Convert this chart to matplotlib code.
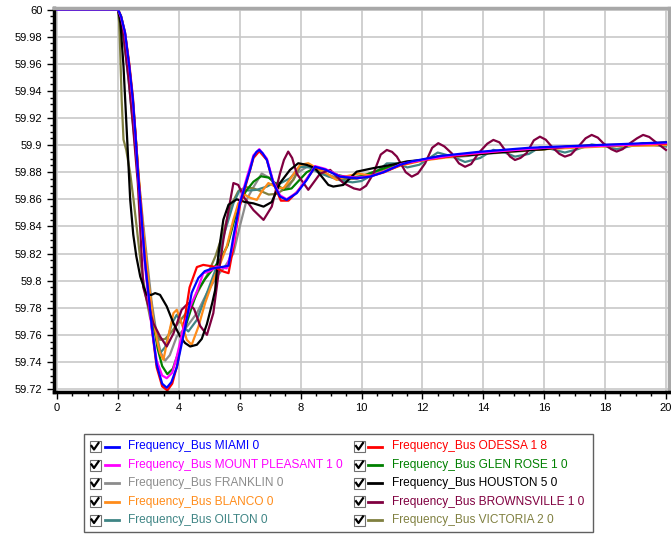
import matplotlib
matplotlib.use("Agg")
import matplotlib.pyplot as plt
from matplotlib.ticker import MultipleLocator, FuncFormatter
from matplotlib.lines import Line2D
from matplotlib.patches import Rectangle

plt.rcParams['font.family'] = ['Liberation Sans', 'DejaVu Sans']

# ---- data (time s, frequency Hz) ----
t_miami = [0, 2.0, 2.1, 2.23, 2.37, 2.49, 2.58, 2.66, 2.76, 2.88, 3.0, 3.11, 3.27, 3.45, 3.6, 3.75, 3.93, 4.2, 4.42, 4.64,
           4.85, 5.1, 5.4, 5.63, 5.79, 6.0, 6.23, 6.34, 6.45, 6.55, 6.64, 6.75, 6.89, 7.1, 7.32, 7.54, 7.87, 8.2, 8.47, 8.8, 9.29, 9.84,
           10.28, 10.72, 11.26, 11.65, 12.6, 13.85, 15.5, 17.7, 20]
f_miami = [60, 60, 59.995, 59.983, 59.958, 59.933, 59.905, 59.878, 59.85, 59.815, 59.79, 59.766, 59.738, 59.724, 59.721, 59.725, 59.736, 59.765, 59.791, 59.802,
           59.807, 59.809, 59.810, 59.811, 59.8325, 59.857, 59.874, 59.882, 59.8915, 59.895, 59.8964, 59.894, 59.889, 59.872, 59.862, 59.8596, 59.8645, 59.8743, 59.884, 59.882, 59.8767, 59.8755,
           59.8767, 59.880, 59.8854, 59.888, 59.892, 59.895, 59.898, 59.900, 59.902]

t_mount = [0, 2.0, 2.1, 2.23, 2.37, 2.49, 2.58, 2.66, 2.76, 2.88, 3.0, 3.11, 3.27, 3.45, 3.6, 3.78, 3.93, 4.15, 4.37, 4.59,
           4.8, 5.02, 5.24, 5.57, 5.8, 6.0, 6.23, 6.45, 6.64, 6.89, 7.1, 7.32, 7.54, 7.87, 8.2, 8.47, 8.8, 9.3, 9.85, 10.3,
           10.75, 11.3, 12.0, 13.0, 14.5, 16.0, 18.0, 20]
f_mount = [60, 60, 59.994, 59.982, 59.957, 59.93, 59.903, 59.877, 59.848, 59.812, 59.787, 59.764, 59.741, 59.73, 59.728, 59.732, 59.744, 59.765, 59.781, 59.792,
           59.8055, 59.807, 59.8104, 59.809, 59.828, 59.858, 59.876, 59.8925, 59.897, 59.89, 59.873, 59.863, 59.86, 59.865, 59.875, 59.8845, 59.8825, 59.877, 59.876, 59.877,
           59.8805, 59.886, 59.889, 59.8925, 59.8955, 59.898, 59.8995, 59.9015]

t_franklin = [0, 2.0, 2.1, 2.2, 2.35, 2.5, 2.65, 2.8, 2.95, 3.1, 3.27, 3.4, 3.55, 3.7, 3.93, 4.26, 4.59, 4.92, 5.24, 5.5,
              5.79, 6.0, 6.23, 6.45, 6.72, 7.0, 7.32, 7.6, 7.87, 8.2, 8.5, 8.8, 9.2, 9.6, 10.0, 10.5, 11.0, 11.5, 12.0, 12.5,
              13.0, 13.5, 14.0, 15.0, 16.0, 17.0, 18.0, 19.0, 20]
f_franklin = [60, 60, 59.993, 59.978, 59.95, 59.918, 59.882, 59.848, 59.816, 59.785, 59.76, 59.747, 59.741, 59.745, 59.7588, 59.766, 59.776, 59.7908, 59.803, 59.81,
              59.82, 59.84, 59.86, 59.869, 59.879, 59.8755, 59.868, 59.869, 59.879, 59.884, 59.883, 59.879, 59.876, 59.8755, 59.877, 59.881, 59.884, 59.887, 59.889, 59.8915,
              59.891, 59.892, 59.8935, 59.895, 59.897, 59.899, 59.8995, 59.9, 59.9]

t_blanco = [0, 2.0, 2.1, 2.23, 2.37, 2.49, 2.6, 2.72, 2.83, 3.0, 3.16, 3.3, 3.38, 3.49, 3.65, 3.82, 3.93, 4.09, 4.26, 4.42,
            4.64, 4.86, 5.13, 5.35, 5.57, 5.79, 5.95, 6.17, 6.35, 6.56, 6.72, 6.94, 7.16, 7.43, 7.71, 7.98, 8.25, 8.53, 8.86, 9.18,
            9.5, 9.9, 10.3, 10.8, 11.3, 12.0, 13.0, 14.0, 15.0, 16.0, 17.0, 18.0, 19.0, 20]
f_blanco = [60, 60, 59.994, 59.98, 59.955, 59.928, 59.9, 59.866, 59.8374, 59.80, 59.771, 59.754, 59.7465, 59.7416, 59.7588, 59.776, 59.7785, 59.7686, 59.7563, 59.7527,
            59.766, 59.7834, 59.8006, 59.812, 59.825, 59.845, 59.857, 59.8633, 59.861, 59.8596, 59.8657, 59.872, 59.8694, 59.868, 59.8767, 59.8854, 59.8866, 59.883, 59.879, 59.8743,
            59.877, 59.879, 59.8775, 59.881, 59.885, 59.8885, 59.8915, 59.894, 59.8955, 59.897, 59.898, 59.899, 59.8995, 59.9]

t_oilton = [0, 2.0, 2.1, 2.2, 2.35, 2.5, 2.65, 2.8, 2.95, 3.1, 3.25, 3.38, 3.55, 3.77, 3.93, 4.15, 4.31, 4.59, 4.92, 5.2,
            5.46, 5.79, 6.0, 6.28, 6.56, 6.89, 7.1, 7.35, 7.65, 7.98, 8.3, 8.6, 8.9, 9.3, 9.7, 10.0, 10.4, 10.83, 11.2, 11.5,
            11.9, 12.5, 13.0, 13.4, 13.9, 14.33, 14.7, 15.04, 15.5, 15.86, 16.25, 16.68, 17.1, 17.56, 18.0, 18.38, 18.8, 19.25, 19.64, 20]
f_oilton = [60, 60, 59.992, 59.976, 59.947, 59.914, 59.878, 59.843, 59.81, 59.782, 59.76, 59.7465, 59.751, 59.7686, 59.7748, 59.766, 59.7625, 59.771, 59.7908, 59.808,
            59.8325, 59.857, 59.867, 59.8665, 59.867, 59.8694, 59.872, 59.872, 59.8755, 59.884, 59.8835, 59.8795, 59.877, 59.874, 59.8725, 59.8735, 59.8785, 59.8865, 59.8865, 59.8835,
            59.8855, 59.8945, 59.8915, 59.8875, 59.8905, 59.8965, 59.8945, 59.8915, 59.8935, 59.8985, 59.897, 59.8945, 59.897, 59.9005, 59.899, 59.897, 59.899, 59.9015, 59.9, 59.899]

t_odessa = [0, 2.0, 2.1, 2.23, 2.37, 2.49, 2.58, 2.66, 2.76, 2.88, 3.0, 3.11, 3.27, 3.45, 3.62, 3.78, 3.95, 4.15, 4.35, 4.59,
            4.8, 5.13, 5.46, 5.63, 5.8, 6.0, 6.23, 6.45, 6.64, 6.89, 7.1, 7.35, 7.6, 7.9, 8.2, 8.47, 8.8, 9.3, 9.85, 10.3,
            10.75, 11.3, 12.0, 13.0, 14.5, 16.0, 18.0, 20]
f_odessa = [60, 60, 59.995, 59.983, 59.96, 59.935, 59.907, 59.88, 59.852, 59.816, 59.79, 59.765, 59.736, 59.722, 59.719, 59.724, 59.738, 59.766, 59.795, 59.81,
            59.8116, 59.8104, 59.8067, 59.8055, 59.826, 59.855, 59.873, 59.8905, 59.8955, 59.889, 59.872, 59.859, 59.859, 59.866, 59.875, 59.8835, 59.882, 59.877, 59.8755, 59.877,
            59.880, 59.8855, 59.889, 59.892, 59.8955, 59.898, 59.900, 59.901]

t_glenrose = [0, 2.0, 2.1, 2.23, 2.37, 2.49, 2.6, 2.72, 2.85, 3.0, 3.15, 3.3, 3.45, 3.62, 3.8, 4.0, 4.2, 4.4, 4.6, 4.85,
              5.1, 5.35, 5.6, 5.8, 6.0, 6.2, 6.45, 6.7, 6.95, 7.2, 7.45, 7.7, 7.95, 8.2, 8.5, 8.8, 9.2, 9.6, 10.0, 10.5,
              11.0, 12.0, 13.0, 14.0, 15.0, 16.0, 17.0, 18.0, 19.0, 20]
f_glenrose = [60, 60, 59.995, 59.982, 59.958, 59.932, 59.9, 59.862, 59.826, 59.795, 59.77, 59.75, 59.737, 59.731, 59.735, 59.748, 59.765, 59.779, 59.792, 59.801,
              59.808, 59.8153, 59.826, 59.843, 59.857, 59.866, 59.873, 59.877, 59.876, 59.871, 59.867, 59.868, 59.874, 59.88, 59.8835, 59.882, 59.878, 59.876, 59.877, 59.881,
              59.885, 59.889, 59.892, 59.894, 59.896, 59.897, 59.899, 59.9, 59.9, 59.901]

t_houston = [0, 2.0, 2.08, 2.18, 2.29, 2.40, 2.5, 2.6, 2.73, 2.85, 2.95, 3.1, 3.22, 3.38, 3.6, 3.82, 4.04, 4.2, 4.37, 4.59,
             4.75, 4.92, 5.1, 5.19, 5.3, 5.46, 5.63, 5.9, 6.17, 6.45, 6.78, 7.05, 7.32, 7.65, 7.92, 8.2, 8.47, 8.91, 9.07, 9.4,
             9.84, 10.39, 11.0, 11.5, 12.0, 12.5, 13.0, 13.5, 14.2, 15.0, 16.0, 16.74, 17.5, 18.5, 19.3, 20]
f_houston = [60, 60, 59.99, 59.958, 59.909, 59.8596, 59.834, 59.818, 59.803, 59.795, 59.7895, 59.7895, 59.7908, 59.7895, 59.781, 59.7686, 59.7588, 59.754, 59.7514, 59.7527,
             59.757, 59.768, 59.784, 59.793, 59.82, 59.845, 59.856, 59.86, 59.858, 59.857, 59.8546, 59.858, 59.872, 59.8817, 59.8866, 59.8854, 59.883, 59.8706, 59.8694, 59.8706,
             59.8804, 59.883, 59.8855, 59.888, 59.889, 59.8915, 59.892, 59.8925, 59.894, 59.8955, 59.897, 59.8988, 59.8995, 59.9, 59.901, 59.902]

t_browns = [0, 2.0, 2.1, 2.2, 2.35, 2.5, 2.65, 2.83, 3.0, 3.16, 3.38, 3.6, 3.82, 4.09, 4.31, 4.5, 4.7, 4.92, 5.13, 5.3,
            5.46, 5.63, 5.79, 5.95, 6.12, 6.45, 6.78, 7.05, 7.32, 7.45, 7.59, 7.72, 7.87, 8.25, 8.64, 8.97, 9.4, 9.75, 9.95, 10.15,
            10.39, 10.63, 10.83, 11.0, 11.16, 11.45, 11.65, 11.85, 12.09, 12.32, 12.52, 12.72, 12.96, 13.2, 13.4, 13.6, 13.84, 14.13, 14.33, 14.53,
            14.71, 14.88, 15.04, 15.22, 15.42, 15.66, 15.86, 16.05, 16.25, 16.5, 16.68, 16.88, 17.12, 17.36, 17.56, 17.76, 17.94, 18.2, 18.38, 18.58,
            18.82, 19.05, 19.25, 19.45, 19.64, 20]
f_browns = [60, 60, 59.993, 59.977, 59.948, 59.912, 59.872, 59.795, 59.781, 59.7686, 59.7588, 59.7514, 59.761, 59.7785, 59.7834, 59.779, 59.7665, 59.76, 59.776, 59.805,
            59.83, 59.852, 59.872, 59.8706, 59.862, 59.852, 59.8448, 59.8546, 59.879, 59.889, 59.8952, 59.8905, 59.879, 59.867, 59.879, 59.8817, 59.872, 59.868, 59.867, 59.870,
            59.879, 59.893, 59.8964, 59.895, 59.8915, 59.880, 59.8767, 59.879, 59.8866, 59.898, 59.9014, 59.899, 59.894, 59.8865, 59.884, 59.886, 59.894, 59.901, 59.9038, 59.902,
            59.8964, 59.8915, 59.889, 59.8905, 59.894, 59.9035, 59.9062, 59.904, 59.8988, 59.8935, 59.8915, 59.893, 59.8988, 59.905, 59.9075, 59.9055, 59.9014, 59.897, 59.8952, 59.897,
            59.9014, 59.905, 59.9075, 59.906, 59.9026, 59.8964]

t_victoria = [0, 2.0, 2.04, 2.07, 2.12, 2.18, 2.27, 2.4, 2.51, 2.62, 2.75, 2.9, 3.05, 3.2, 3.38, 3.55, 3.75, 3.95, 4.2, 4.45,
              4.7, 4.95, 5.2, 5.45, 5.7, 5.95, 6.2, 6.45, 6.7, 6.95, 7.2, 7.43, 7.76, 7.98, 8.3, 8.6, 8.9, 9.3, 9.7, 10.0,
              10.5, 11.0, 12.0, 13.0, 14.0, 15.0, 16.0, 17.0, 18.0, 19.0, 20]
f_victoria = [60, 60, 59.99, 59.97, 59.933, 59.904, 59.8964, 59.879, 59.8596, 59.838, 59.812, 59.79, 59.773, 59.763, 59.7563, 59.757, 59.762, 59.768, 59.775, 59.784,
              59.795, 59.805, 59.818, 59.835, 59.855, 59.866, 59.869, 59.868, 59.866, 59.8635, 59.864, 59.867, 59.8743, 59.884, 59.8845, 59.881, 59.877, 59.875, 59.875, 59.876,
              59.88, 59.8845, 59.889, 59.892, 59.894, 59.896, 59.897, 59.899, 59.9, 59.9, 59.9]

# legend layout: (label, colour, t, f) left column then right column
left_col = [("Frequency_Bus MIAMI 0", "#0000ff", t_miami, f_miami),
            ("Frequency_Bus MOUNT PLEASANT 1 0", "#ff00ff", t_mount, f_mount),
            ("Frequency_Bus FRANKLIN 0", "#8c8c8c", t_franklin, f_franklin),
            ("Frequency_Bus BLANCO 0", "#ff8c1a", t_blanco, f_blanco),
            ("Frequency_Bus OILTON 0", "#3f8585", t_oilton, f_oilton)]
right_col = [("Frequency_Bus ODESSA 1 8", "#ff0000", t_odessa, f_odessa),
             ("Frequency_Bus GLEN ROSE 1 0", "#008000", t_glenrose, f_glenrose),
             ("Frequency_Bus HOUSTON 5 0", "#000000", t_houston, f_houston),
             ("Frequency_Bus BROWNSVILLE 1 0", "#800040", t_browns, f_browns),
             ("Frequency_Bus VICTORIA 2 0", "#808040", t_victoria, f_victoria)]

W, H = 671, 544
fig = plt.figure(figsize=(W / 100, H / 100), dpi=100)

def fx(x):
    return x / W

def fy(y):
    return 1 - y / H

ax = fig.add_axes([fx(53.5), fy(391.5), fx(669) - fx(53.5), fy(7.5) - fy(391.5)])

# drawing order: blue on top
draw_order = [left_col[2], right_col[4], left_col[4], right_col[1], left_col[3], right_col[3],
              right_col[2], right_col[0], left_col[1], left_col[0]]
for name, col, tt, ff in draw_order:
    ax.plot(tt, ff, color=col, lw=1.6, solid_joinstyle='round')

ax.set_xlim(-0.12, 20.1)
ax.set_ylim(59.7182, 60.0015)
ax.xaxis.set_major_locator(MultipleLocator(2))
ax.xaxis.set_minor_locator(MultipleLocator(0.5))
ax.yaxis.set_major_locator(MultipleLocator(0.02))
ax.yaxis.set_minor_locator(MultipleLocator(0.005))
ax.yaxis.set_major_formatter(FuncFormatter(lambda v, p: ("%.2f" % v).rstrip('0').rstrip('.')))
ax.xaxis.set_major_formatter(FuncFormatter(lambda v, p: "%d" % round(v)))
ax.tick_params(which='major', length=5, width=1, labelsize=8, pad=3, direction='out')
ax.tick_params(which='minor', length=3, width=1, direction='out')
ax.grid(which='major', color='#c8c8c8', lw=1.2)
ax.set_axisbelow(True)
for s in ['left', 'bottom']:
    ax.spines[s].set_linewidth(2.5)
    ax.spines[s].set_color('black')
for s in ['top', 'right']:
    ax.spines[s].set_linewidth(2.5)
    ax.spines[s].set_color('#a8a8a8')

# legend box with check boxes
fig.add_artist(Rectangle((fx(84), fy(532)), fx(593) - fx(84), fy(434) - fy(532),
                         transform=fig.transFigure, fill=False, edgecolor='#606060', lw=1))
rows = [446.5, 465, 483.3, 501.7, 520]

def legend_item(x_box, x_line, x_text, y, name, col):
    fig.add_artist(Rectangle((fx(x_box - 5.5), fy(y + 5.5)), fx(11), 11 / H, transform=fig.transFigure,
                             facecolor='white', edgecolor='#707070', lw=0.8))
    fig.add_artist(Line2D([fx(x_box - 3.5), fx(x_box - 1), fx(x_box + 3.5)],
                          [fy(y - 0.5), fy(y + 3), fy(y - 3.5)],
                          transform=fig.transFigure, color='black', lw=1.6))
    fig.add_artist(Line2D([fx(x_line), fx(x_line + 14)], [fy(y), fy(y)],
                          transform=fig.transFigure, color=col, lw=2))
    fig.text(fx(x_text), fy(y), name, color=col, fontsize=8.6, va='center', ha='left')

for (name, col, tt, ff), y in zip(left_col, rows):
    legend_item(95, 105, 128, y, name, col)
for (name, col, tt, ff), y in zip(right_col, rows):
    legend_item(359.5, 368, 392.5, y, name, col)

fig.savefig("out.png", dpi=100)
